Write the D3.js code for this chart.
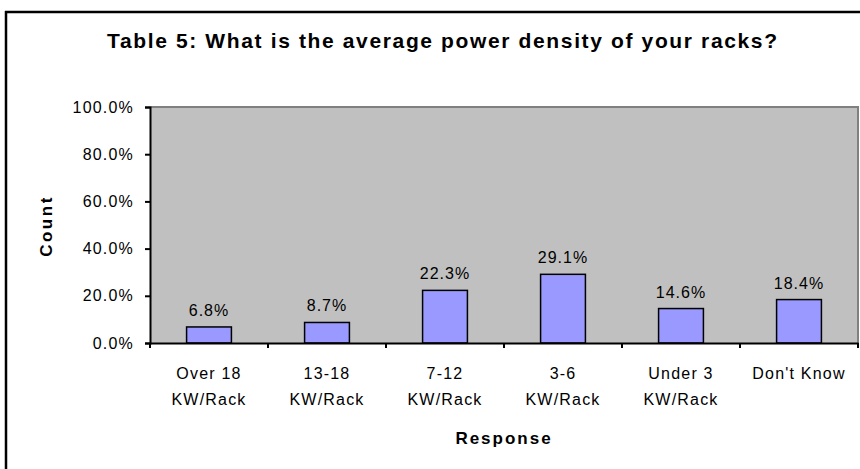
<!DOCTYPE html>
<html>
<head>
<meta charset="utf-8">
<script src="https://cdn.jsdelivr.net/npm/d3@7"></script>
<style>
  body { margin: 0; background: #fff; }
  svg text { font-family: "Liberation Sans", Arial, sans-serif; fill: #000; }
</style>
</head>
<body>
<svg id="chart" width="860" height="469"></svg>
<script>
const categories = ["Over 18|KW/Rack", "13-18|KW/Rack", "7-12|KW/Rack", "3-6|KW/Rack", "Under 3|KW/Rack", "Don't Know"];
const values = [6.8, 8.7, 22.3, 29.1, 14.6, 18.4];
const yTicks = [0, 20, 40, 60, 80, 100];

const svg = d3.select("#chart");
const plot = { left: 150, right: 858, top: 107, bottom: 343 };

// outer frame (left + top edges visible)
svg.append("line").attr("x1", 6).attr("x2", 6).attr("y1", 11).attr("y2", 469)
    .attr("stroke", "#000").attr("stroke-width", 2.5);
svg.append("line").attr("x1", 5).attr("x2", 860).attr("y1", 12).attr("y2", 12)
    .attr("stroke", "#000").attr("stroke-width", 2.5);

const x = d3.scaleBand().domain(categories).range([plot.left, plot.right])
    .paddingInner(0.62).paddingOuter(0.31);
const xCat = d3.scaleBand().domain(categories).range([plot.left, plot.right]);
const y = d3.scaleLinear().domain([0, 100]).range([plot.bottom, plot.top]);

// plot background
svg.append("rect")
    .attr("x", plot.left).attr("y", plot.top)
    .attr("width", plot.right - plot.left).attr("height", plot.bottom - plot.top)
    .attr("fill", "#c0c0c0");
svg.append("path")
    .attr("d", `M${plot.left},${plot.top}H${plot.right}V${plot.bottom}`)
    .attr("fill", "none").attr("stroke", "#808080").attr("stroke-width", 2);

// bars
svg.selectAll("rect.bar")
    .data(values)
    .join("rect")
    .attr("class", "bar")
    .attr("x", (d, i) => x(categories[i]))
    .attr("y", d => y(d))
    .attr("width", x.bandwidth())
    .attr("height", d => y(0) - y(d))
    .attr("fill", "#9999ff")
    .attr("stroke", "#000")
    .attr("stroke-width", 1.5);

svg.selectAll("text.val")
    .data(values)
    .join("text")
    .attr("class", "val")
    .attr("x", (d, i) => x(categories[i]) + x.bandwidth() / 2)
    .attr("y", d => y(d) - 11)
    .attr("text-anchor", "middle")
    .style("font-size", "16px")
    .style("letter-spacing", "1px")
    .text(d => d.toFixed(1) + "%");

// y axis
const yAxis = svg.append("g")
    .attr("transform", `translate(${plot.left},0)`)
    .call(d3.axisLeft(y).tickValues(yTicks).tickSize(5).tickPadding(11)
        .tickFormat(d => d.toFixed(1) + "%"));
yAxis.select(".domain").attr("stroke", "#000").attr("stroke-width", 2);
yAxis.selectAll(".tick line").attr("stroke", "#000").attr("stroke-width", 2);
yAxis.selectAll(".tick text")
    .style("font-size", "16px")
    .style("letter-spacing", "1.2px")
    .style("font-family", "'Liberation Sans', Arial, sans-serif");

// x axis
const xAxis = svg.append("g")
    .attr("transform", `translate(0,${plot.bottom})`)
    .call(d3.axisBottom(xCat).tickSize(0).tickPadding(0).tickFormat(""));
xAxis.select(".domain").attr("stroke", "#000").attr("stroke-width", 2);
xAxis.selectAll(".boundary")
    .data(d3.range(categories.length + 1))
    .join("line")
    .attr("class", "boundary")
    .attr("x1", i => plot.left + i * xCat.step())
    .attr("x2", i => plot.left + i * xCat.step())
    .attr("y1", 0).attr("y2", 5)
    .attr("stroke", "#000").attr("stroke-width", 2);

const catLabels = svg.selectAll("text.cat")
    .data(categories)
    .join("text")
    .attr("class", "cat")
    .attr("text-anchor", "middle")
    .attr("transform", d => `translate(${xCat(d) + xCat.bandwidth() / 2},0)`)
    .style("font-size", "16px")
    .style("letter-spacing", "1.2px");
catLabels.selectAll("tspan")
    .data(d => d.split("|"))
    .join("tspan")
    .attr("x", 0)
    .attr("y", (d, i) => 379 + i * 26)
    .text(d => d);

// titles
svg.append("text")
    .attr("x", 442).attr("y", 48)
    .attr("text-anchor", "middle")
    .attr("textLength", 670)
    .attr("lengthAdjust", "spacing")
    .style("font-size", "21px").style("font-weight", "bold")
    .text("Table 5: What is the average power density of your racks?");

svg.append("text")
    .attr("x", 504).attr("y", 444)
    .attr("text-anchor", "middle")
    .style("font-size", "17px").style("font-weight", "bold")
    .style("letter-spacing", "2px")
    .text("Response");

svg.append("text")
    .attr("transform", "translate(52,226) rotate(-90)")
    .attr("text-anchor", "middle")
    .style("font-size", "17px").style("font-weight", "bold")
    .style("letter-spacing", "2.5px")
    .text("Count");
</script>
</body>
</html>
